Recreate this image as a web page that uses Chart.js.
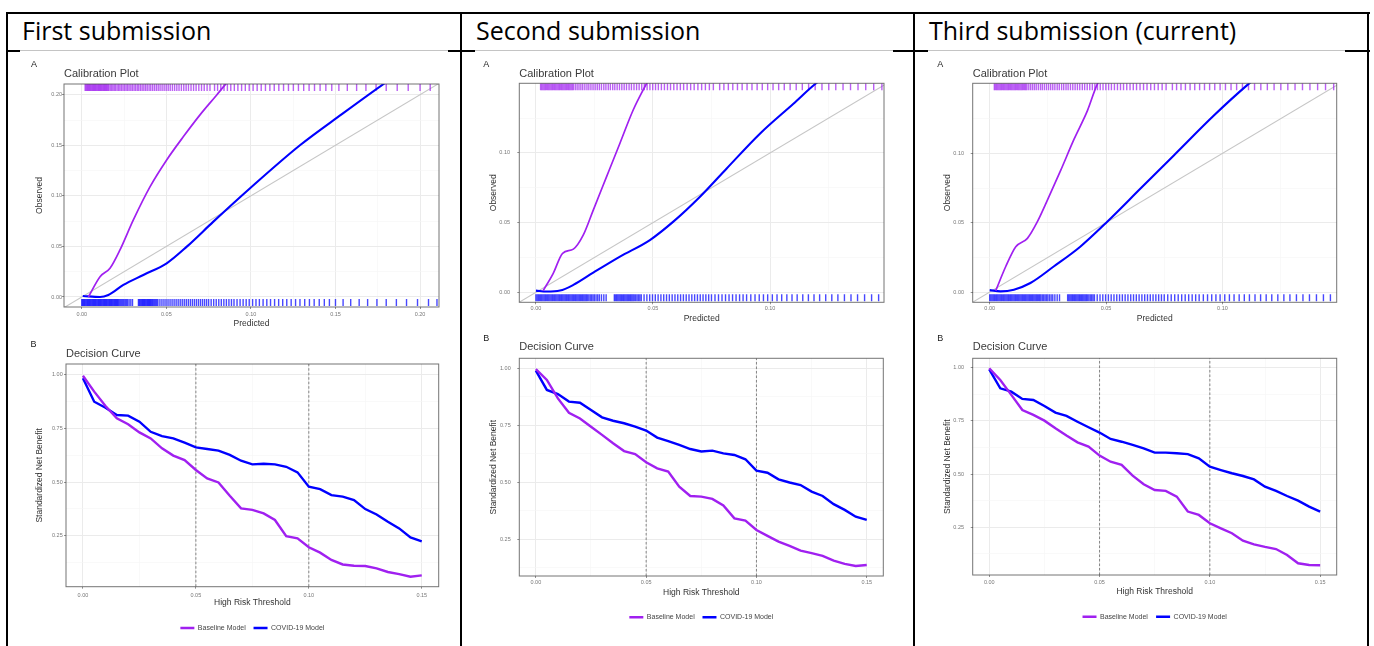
<!DOCTYPE html>
<html><head><meta charset="utf-8">
<script src="https://cdn.jsdelivr.net/npm/chart.js@4.4.0/dist/chart.umd.min.js"></script>
<style>
html,body{margin:0;padding:0;background:#fff;}
body{width:1374px;height:646px;position:relative;overflow:hidden;}
.ln{position:absolute;background:#000;}
.img{position:absolute;top:50px;height:596px;background:#fff;border-top:1px solid #c4c4c4;}
.hd{position:absolute;top:12px;font-family:"Open Sans",sans-serif;font-size:25px;line-height:36px;color:#000;white-space:nowrap;}
canvas{position:absolute;}
</style></head><body>
<div class="ln" style="left:6px;top:12px;width:1364px;height:2px"></div>
<div class="ln" style="left:6px;top:50px;width:1364px;height:2px"></div>
<div class="ln" style="left:6px;top:12px;width:2px;height:634px"></div>
<div class="ln" style="left:460px;top:12px;width:2px;height:634px"></div>
<div class="ln" style="left:913px;top:12px;width:2px;height:634px"></div>
<div class="ln" style="left:1367px;top:12px;width:2px;height:634px"></div>
<div class="hd" style="left:22px">First submission</div>
<div class="hd" style="left:476px">Second submission</div>
<div class="hd" style="left:929px">Third submission (current)</div>
<div class="img" style="left:20px;width:428px"></div>
<div class="img" style="left:475px;width:418px"></div>
<div class="img" style="left:928px;width:417px"></div>
<canvas id="cal1"></canvas><canvas id="cal2"></canvas><canvas id="cal3"></canvas>
<canvas id="dec1"></canvas><canvas id="dec2"></canvas><canvas id="dec3"></canvas>
<script>
// ---------------- DATA ----------------
const seriesNames = ['Baseline Model', 'COVID-19 Model'];

// Calibration tick labels
const cal1XTicks = ['0.00','0.05','0.10','0.15','0.20'];
const cal1YTicks = ['0.00','0.05','0.10','0.15','0.20'];
const cal23XTicks = ['0.00','0.05','0.10'];
const cal23YTicks = ['0.00','0.05','0.10'];
// Decision curve tick labels
const decXTicks = ['0.00','0.05','0.10','0.15'];
const decYTicks = ['0.25','0.50','0.75','1.00'];

// Axis ranges (as shown in each panel)
const cal1XRange = [-0.0105, 0.2112];
const cal1YRange = [-0.0099, 0.2106];
const cal2XRange = [-0.0071, 0.1487];
const cal2YRange = [-0.0072, 0.1500];
const cal3XRange = [-0.0073, 0.1491];
const cal3YRange = [-0.0074, 0.1505];
const decXRange = [-0.0075, 0.1575];
const dec1YRange = [0.0124, 1.0497];
const dec2YRange = [0.0890, 1.0439];
const dec3YRange = [0.0260, 1.0438];

// Calibration curves (Predicted -> Observed)
const cal1BaseX  = [0.0039,0.0108,0.0167,0.0226,0.0305,0.0404,0.0502,0.0601,0.0699,0.0798,0.0847,0.0900];
const cal1BaseY  = [0.0000,0.0201,0.0284,0.0465,0.0762,0.1091,0.1355,0.1586,0.1801,0.1998,0.2097,0.2200];
const cal1CovidX = [0.0006,0.0108,0.0157,0.0246,0.0364,0.0502,0.0621,0.0778,0.0995,0.1290,0.1540,0.1783,0.1900];
const cal1CovidY = [0.0010,0.0000,0.0020,0.0119,0.0218,0.0333,0.0498,0.0745,0.1075,0.1500,0.1810,0.2104,0.2240];

const cal2BaseX  = [0.0031,0.0074,0.0114,0.0160,0.0202,0.0245,0.0302,0.0359,0.0416,0.0473,0.0520];
const cal2BaseY  = [0.0012,0.0136,0.0280,0.0310,0.0410,0.0590,0.0830,0.1070,0.1310,0.1500,0.1650];
const cal2CovidX = [0.0000,0.0046,0.0103,0.0160,0.0245,0.0359,0.0487,0.0587,0.0701,0.0815,0.0958,0.1100,0.1197,0.1300];
const cal2CovidY = [0.0012,0.0005,0.0012,0.0053,0.0141,0.0256,0.0375,0.0507,0.0686,0.0889,0.1140,0.1353,0.1500,0.1620];

const cal3BaseX  = [0.0026,0.0069,0.0112,0.0162,0.0205,0.0248,0.0305,0.0363,0.0420,0.0460,0.0500];
const cal3BaseY  = [0.0010,0.0184,0.0327,0.0387,0.0507,0.0662,0.0877,0.1104,0.1308,0.1490,0.1610];
const cal3CovidX = [0.0000,0.0047,0.0104,0.0175,0.0275,0.0389,0.0505,0.0648,0.0791,0.0962,0.1105,0.1200];
const cal3CovidY = [0.0014,0.0005,0.0017,0.0065,0.0184,0.0327,0.0507,0.0746,0.0985,0.1271,0.1490,0.1620];

// Rug of predicted risks (top: baseline model, bottom: COVID-19 model)
const rugBaseline = [0.0020,0.0025,0.0030,0.0035,0.0040,0.0045,0.0050,0.0055,0.0060,0.0065,0.0070,0.0075,0.0080,0.0085,0.0090,0.0095,0.0100,0.0105,0.0110,0.0115,0.0120,0.0125,0.0130,0.0135,0.0140,0.0145,0.0150,0.0155,0.0160,
  0.0168,0.0176,0.0184,0.0192,0.0200,0.0209,0.0218,0.0226,0.0235,0.0244,0.0253,0.0262,0.0271,0.0280,0.0290,0.0299,0.0309,0.0318,0.0328,0.0337,0.0347,0.0357,0.0367,0.0377,0.0387,0.0398,0.0408,0.0419,0.0430,0.0441,0.0452,0.0463,0.0475,0.0487,0.0499,0.0511,0.0523,0.0536,0.0549,0.0562,0.0575,0.0589,0.0603,0.0617,0.0631,0.0646,0.0661,0.0676,0.0692,0.0708,0.0724,0.0741,0.0758,
  0.0785,0.0803,0.0822,0.0841,0.0861,0.0881,0.0902,0.0923,0.0945,0.0967,0.0990,0.1013,0.1037,0.1061,0.1086,0.1112,0.1138,0.1165,0.1193,0.1222,0.1251,0.1281,0.1312,0.1344,0.1376,0.1409,0.1443,0.1478,0.1520,0.1570,0.1625,0.1680,0.1740,0.1800,0.1865,0.1930,0.2000,0.2060];
const rugCovid = [0.0000,0.0005,0.0010,0.0015,0.0020,0.0025,0.0030,0.0035,0.0040,0.0045,0.0050,0.0055,0.0060,0.0065,0.0070,0.0075,0.0080,0.0085,0.0090,0.0095,0.0100,0.0105,0.0110,0.0115,0.0120,0.0125,0.0130,0.0135,0.0140,0.0145,0.0150,0.0155,0.0160,0.0165,0.0170,0.0175,0.0180,0.0185,0.0190,0.0195,0.0200,0.0205,0.0210,0.0215,0.0220,0.0226,0.0232,0.0238,0.0244,0.0250,0.0257,0.0264,0.0271,0.0280,0.0290,0.0300,
  0.0335,0.0340,0.0345,0.0350,0.0355,0.0360,0.0365,0.0370,0.0375,0.0380,0.0385,0.0390,0.0395,0.0400,0.0405,0.0410,0.0415,0.0420,0.0426,0.0432,0.0438,0.0444,0.0450,
  0.0462,0.0474,0.0486,0.0498,0.0510,0.0522,0.0534,0.0546,0.0558,0.0570,0.0582,0.0594,0.0606,0.0618,0.0630,0.0642,0.0654,0.0666,0.0678,0.0690,0.0702,0.0714,0.0726,0.0738,0.0750,0.0765,0.0780,0.0795,0.0810,0.0825,0.0840,0.0855,0.0870,0.0885,0.0900,0.0918,0.0936,0.0954,0.0972,0.0990,
  0.1010,0.1030,0.1050,0.1072,0.1094,0.1116,0.1140,0.1164,0.1188,0.1212,0.1238,0.1264,0.1290,0.1318,0.1346,0.1374,0.1404,0.1434,0.1464,0.1500,0.1545,0.1590,0.1640,0.1690,0.1745,0.1800,0.1860,0.1920,0.1985,0.2050,0.2100];

// Decision curves
const thresholds = [0.000,0.005,0.010,0.015,0.020,0.025,0.030,0.035,0.040,0.045,0.050,0.055,0.060,0.065,0.070,0.075,0.080,0.085,0.090,0.095,0.100,0.105,0.110,0.115,0.120,0.125,0.130,0.135,0.140,0.145,0.150];
const dec1Baseline = [0.995,0.921,0.854,0.797,0.769,0.731,0.703,0.657,0.623,0.602,0.556,0.517,0.498,0.436,0.377,0.370,0.354,0.323,0.248,0.238,0.196,0.171,0.137,0.116,0.110,0.109,0.098,0.081,0.071,0.059,0.065];
const dec1Covid    = [0.983,0.874,0.846,0.812,0.809,0.781,0.734,0.714,0.703,0.683,0.661,0.654,0.646,0.626,0.599,0.582,0.585,0.582,0.571,0.545,0.478,0.467,0.439,0.432,0.416,0.374,0.349,0.315,0.284,0.242,0.224];
const dec2Baseline = [0.996,0.949,0.868,0.805,0.780,0.744,0.708,0.671,0.637,0.624,0.588,0.561,0.547,0.481,0.440,0.437,0.427,0.398,0.342,0.332,0.291,0.265,0.240,0.221,0.200,0.189,0.177,0.156,0.142,0.133,0.137];
const dec2Covid    = [0.990,0.905,0.887,0.854,0.849,0.817,0.785,0.770,0.759,0.744,0.727,0.696,0.681,0.664,0.646,0.635,0.639,0.627,0.620,0.601,0.551,0.542,0.513,0.499,0.488,0.459,0.440,0.404,0.379,0.349,0.335];
const dec3Baseline = [0.997,0.942,0.872,0.801,0.778,0.751,0.715,0.681,0.649,0.629,0.587,0.558,0.543,0.493,0.452,0.425,0.421,0.394,0.324,0.308,0.269,0.245,0.222,0.187,0.170,0.158,0.148,0.120,0.081,0.073,0.072];
const dec3Covid    = [0.992,0.903,0.887,0.853,0.848,0.820,0.789,0.773,0.746,0.720,0.695,0.665,0.652,0.637,0.621,0.601,0.601,0.598,0.594,0.574,0.535,0.519,0.504,0.491,0.475,0.441,0.421,0.397,0.375,0.347,0.324];
const decisionMarkers = [0.05, 0.10];
const perfectLine = [-1, 1];

// ---------------- STYLE / LAYOUT ----------------
const FONT = '"Liberation Sans", Arial, Helvetica, sans-serif';
const PURPLE = '#A020F0', BLUE = '#0000FF';
const PURPLE_RUG = 'rgba(160,32,240,0.72)', BLUE_RUG = 'rgba(0,0,255,0.72)';
const TL = 2, TICK_FS = 5.5, TICK_LH = TICK_FS * 1.2, AXIS_LH = 10, TAG_LH = 8, TITLE_LH = 8, LEG_FS = 7;

const layouts = {
  cal1: {x:20, y:52, w:428, h:280, area:{l:64, t:84, r:439, b:307}, tagX:31, tagY:65, titleY:74, yTitleX:39.3, yLabelR:62.7, xLabelY:314, xTitleY:324, xH:22},
  cal2: {x:470, y:52, w:423, h:280, area:{l:519.3, t:83.3, r:884, b:302.3}, tagX:483.3, tagY:64.3, titleY:73.5, yTitleX:493.3, yLabelR:510, xLabelY:308.3, xTitleY:318.3, xH:22},
  cal3: {x:924, y:52, w:421, h:280, area:{l:972.7, t:83.3, r:1336.7, b:302.3}, tagX:937.3, tagY:64.3, titleY:73.5, yTitleX:947.3, yLabelR:964, xLabelY:308.3, xTitleY:318.3, xH:22},
  dec1: {x:20, y:332, w:428, h:314, area:{l:66, t:364, r:438.7, b:586.7}, tagX:30.5, tagY:345, titleY:353.5, yTitleX:39.3, yLabelR:62.7, xLabelY:595.7, xTitleY:603, xH:30, legendY:628},
  dec2: {x:470, y:332, w:423, h:314, area:{l:519.3, t:358.3, r:883.3, b:576}, tagX:483.3, tagY:338.3, titleY:346.8, yTitleX:493.3, yLabelR:510.7, xLabelY:582.3, xTitleY:592.3, xH:30, legendY:617.3},
  dec3: {x:924, y:332, w:421, h:314, area:{l:972.7, t:358.3, r:1336.7, b:575}, tagX:937.3, tagY:338.3, titleY:346.8, yTitleX:947.3, yLabelR:964, xLabelY:582.3, xTitleY:591.7, xH:30, legendY:616.7}
};

Chart.defaults.font.family = FONT;

function zip(xs, ys) { return xs.map((x, i) => ({x: x, y: ys[i]})); }

function axis(range, labels, isX, size, tickPad, title, titlePad) {
  const majors = labels.map(Number);
  const step = majors[1] - majors[0];
  const vals = [majors[0] - step / 2];
  majors.forEach(m => { vals.push(m); vals.push(m + step / 2); });
  const tickVals = vals.filter(v => v >= range[0] && v <= range[1]);
  const isMajor = v => majors.some(m => Math.abs(m - v) < 1e-9);
  const maj = c => c.tick && isMajor(c.tick.value);
  return {
    type: 'linear', position: isX ? 'bottom' : 'left', bounds: 'data',
    min: range[0], max: range[1],
    afterBuildTicks: s => { s.ticks = tickVals.map(v => ({value: v})); },
    afterFit: s => { if (isX) s.height = size; else s.width = size; },
    ticks: {
      autoSkip: false, maxRotation: 0, minRotation: 0, padding: tickPad,
      color: '#777', font: {size: TICK_FS, lineHeight: 1.2},
      callback: v => { const i = majors.findIndex(m => Math.abs(m - v) < 1e-9); return i >= 0 ? labels[i] : ''; }
    },
    grid: {
      color: c => maj(c) ? '#ebebeb' : '#f5f5f5',
      lineWidth: c => maj(c) ? 1 : 0.6,
      drawTicks: true, tickLength: TL, tickWidth: 0.8,
      tickColor: c => maj(c) ? '#777' : 'rgba(0,0,0,0)'
    },
    border: {display: false},
    title: {
      display: true, text: title, color: '#333',
      font: {size: 8.5, lineHeight: AXIS_LH + 'px'},
      padding: isX ? {top: 0, bottom: titlePad} : {top: titlePad, bottom: 0}
    }
  };
}

const panelBorder = {
  id: 'panelBorder',
  afterDatasetsDraw(chart) {
    const {ctx, chartArea: a} = chart;
    ctx.save();
    ctx.strokeStyle = 'rgba(70,70,70,0.75)';
    ctx.lineWidth = 1;
    ctx.strokeRect(a.left, a.top, a.right - a.left, a.bottom - a.top);
    ctx.restore();
  }
};

function lineDS(label, pts, color, width, smooth) {
  return {label: label, data: pts, showLine: true, borderColor: color, backgroundColor: color,
    borderWidth: width, pointRadius: 0, pointHoverRadius: 0, fill: false,
    cubicInterpolationMode: smooth ? 'monotone' : 'default', tension: 0};
}

function rugDS(values, yFrac, color) {
  return {data: values.map(v => ({x: v, y: yFrac})), yAxisID: 'yr', showLine: false,
    pointStyle: 'line', rotation: 90, pointRadius: 3.5, pointHoverRadius: 3.5, pointBorderWidth: 1.4,
    pointBorderColor: color, pointBackgroundColor: color, borderColor: color};
}

function makeChart(id, s) {
  const L = layouts[id];
  const cv = document.getElementById(id);
  cv.width = L.w; cv.height = L.h;
  cv.style.left = L.x + 'px'; cv.style.top = L.y + 'px';
  cv.style.width = L.w + 'px'; cv.style.height = L.h + 'px';
  const A = L.area;
  const padLeft = L.tagX - L.x;
  const padRight = L.x + L.w - A.r;
  const tagPadTop = L.tagY - L.y - TAG_LH / 2;
  const titlePadTop = Math.max(0, L.titleY - (L.tagY + TAG_LH / 2) - TITLE_LH / 2);
  const titlePadBottom = A.t - (L.tagY + TAG_LH / 2 + titlePadTop + TITLE_LH);
  const yAxisW = A.l - L.tagX;
  const yTitlePad = L.yTitleX - L.tagX - AXIS_LH / 2;
  const yTickPad = Math.max(0, A.l - TL - L.yLabelR);
  const xTickPad = Math.max(0, L.xLabelY - A.b - TL - TICK_LH / 2);
  const xTitlePad = A.b + L.xH - AXIS_LH / 2 - L.xTitleY;
  let legPad = 10, legH = 0;
  if (s.legend) { legPad = L.legendY - (A.b + L.xH) - LEG_FS / 2; legH = LEG_FS + legPad + 10; }
  const padBottom = L.y + L.h - (A.b + L.xH + legH);
  const areaH = A.b - A.t;

  const datasets = s.datasets.slice();
  if (s.rugs) {
    datasets.push(rugDS(s.rugs[0], 1 - 3.5 / areaH, PURPLE_RUG));
    datasets.push(rugDS(s.rugs[1], 4.5 / areaH, BLUE_RUG));
  }
  (s.extra || []).forEach(d => datasets.push(d));

  return new Chart(cv, {
    type: 'scatter',
    data: {datasets: datasets},
    plugins: [panelBorder],
    options: {
      responsive: false, animation: false, devicePixelRatio: 1, events: [],
      layout: {padding: {left: padLeft, right: padRight, top: 0, bottom: padBottom}},
      scales: {
        x: axis(s.xRange, s.xTicks, true, L.xH, xTickPad, s.xTitle, xTitlePad),
        y: axis(s.yRange, s.yTicks, false, yAxisW, yTickPad, s.yTitle, yTitlePad),
        yr: {type: 'linear', min: 0, max: 1, display: false}
      },
      plugins: {
        tooltip: {enabled: false},
        title: {display: true, text: s.tag, align: 'start', fullSize: true, color: '#222',
          font: {size: 9, weight: 'normal', lineHeight: TAG_LH + 'px'}, padding: {top: tagPadTop, bottom: 0}},
        subtitle: {display: true, text: s.title, align: 'start', fullSize: false, color: '#3a3a3a',
          font: {size: 11, weight: 'normal', lineHeight: TITLE_LH + 'px'}, padding: {top: titlePadTop, bottom: titlePadBottom}},
        legend: s.legend ? {
          display: true, position: 'bottom', align: 'center', fullSize: false,
          labels: {usePointStyle: true, pointStyle: 'line', pointStyleWidth: 14, boxHeight: LEG_FS,
            color: '#444', font: {size: LEG_FS}, padding: legPad,
            filter: item => !!item.text}
        } : {display: false}
      }
    }
  });
}

function calChart(id, xr, yr, xt, yt, bx, by, cx, cy) {
  return makeChart(id, {
    tag: 'A', title: 'Calibration Plot', xTitle: 'Predicted', yTitle: 'Observed',
    xRange: xr, yRange: yr, xTicks: xt, yTicks: yt, legend: false,
    datasets: [
      lineDS(seriesNames[0], zip(bx, by), PURPLE, 1.7, true),
      lineDS(seriesNames[1], zip(cx, cy), BLUE, 2.1, true)
    ],
    rugs: [rugBaseline, rugCovid],
    extra: [lineDS(undefined, zip(perfectLine, perfectLine), '#c6c6c6', 1.1, false)]
  });
}

function decChart(id, yr, base, covid) {
  return makeChart(id, {
    tag: 'B', title: 'Decision Curve', xTitle: 'High Risk Threshold', yTitle: 'Standardized Net Benefit',
    xRange: decXRange, yRange: yr, xTicks: decXTicks, yTicks: decYTicks, legend: true,
    datasets: [
      lineDS(seriesNames[0], zip(thresholds, base), PURPLE, 2.4, false),
      lineDS(seriesNames[1], zip(thresholds, covid), BLUE, 2.4, false)
    ],
    extra: decisionMarkers.map(m => Object.assign(
      lineDS(undefined, [{x: m, y: 0}, {x: m, y: 1}], '#6a6a6a', 0.8, false),
      {yAxisID: 'yr', borderDash: [2.5, 2]}))
  });
}

calChart('cal1', cal1XRange, cal1YRange, cal1XTicks, cal1YTicks, cal1BaseX, cal1BaseY, cal1CovidX, cal1CovidY);
calChart('cal2', cal2XRange, cal2YRange, cal23XTicks, cal23YTicks, cal2BaseX, cal2BaseY, cal2CovidX, cal2CovidY);
calChart('cal3', cal3XRange, cal3YRange, cal23XTicks, cal23YTicks, cal3BaseX, cal3BaseY, cal3CovidX, cal3CovidY);
decChart('dec1', dec1YRange, dec1Baseline, dec1Covid);
decChart('dec2', dec2YRange, dec2Baseline, dec2Covid);
decChart('dec3', dec3YRange, dec3Baseline, dec3Covid);
</script>
</body></html>
